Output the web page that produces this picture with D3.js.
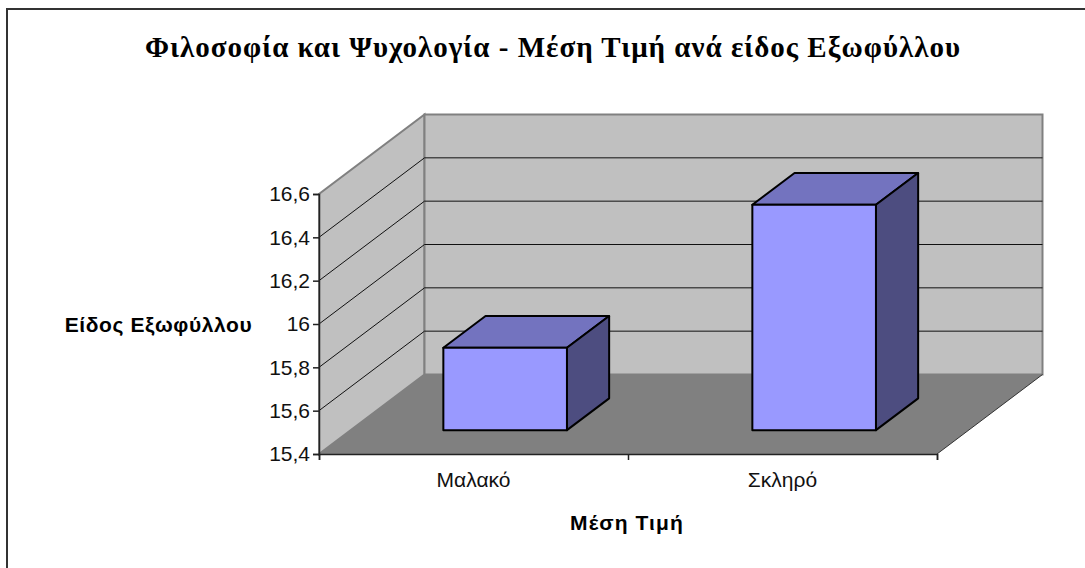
<!DOCTYPE html>
<html>
<head>
<meta charset="utf-8">
<script src="https://cdn.jsdelivr.net/npm/d3@7"></script>
<style>
  html, body { margin: 0; padding: 0; background: #fff; }
  svg { display: block; }
  text { font-family: "Liberation Sans", Arial, sans-serif; fill: #000; }
  .axis text { font-size: 21px; fill: #111; }
  .axis path, .axis line { stroke: #222; stroke-width: 1.5; }
</style>
</head>
<body>
<div id="chart"></div>
<script>
const WIDTH  = 1085;
const HEIGHT = 568;

const title      = 'Φιλοσοφία και Ψυχολογία - Μέση Τιμή ανά είδος Εξωφύλλου';
const xTitle     = 'Μέση Τιμή';
const yTitle     = 'Είδος Εξωφύλλου';
const categories = ['Μαλακό', 'Σκληρό'];
const values     = [15.78, 16.44];
const yTicks     = [15.4, 15.6, 15.8, 16, 16.2, 16.4, 16.6];

// front plane of the plot box and how far the depth goes back
const LEFT = 319, RIGHT = 937, BOTTOM = 454, TOP = 194;
const DEPTH_X = 105.5, DEPTH_Y = -79.5;
const BAR_FRONT = 0.3, BAR_BACK = 0.7;

const svg = d3.select('#chart').append('svg')
  .attr('width', WIDTH)
  .attr('height', HEIGHT);

const y  = d3.scaleLinear().domain([15.4, 16.6]).range([BOTTOM, TOP]);
const x  = d3.scaleBand().domain(categories).range([LEFT, RIGHT]).paddingInner(0.6).paddingOuter(0.3);
const xE = d3.scaleLinear().domain([0, categories.length]).range([LEFT, RIGHT]);
const dx = d3.scaleLinear().domain([0, 1]).range([0, DEPTH_X]);
const dy = d3.scaleLinear().domain([0, 1]).range([0, DEPTH_Y]);

const poly = pts => pts.map(p => p.join(',')).join(' ');
const yMin = y.domain()[0], yMax = y.domain()[1];

// chart frame, only top and left are visible
svg.append('path')
  .attr('d', 'M7,568V9H1085')
  .attr('fill', 'none')
  .attr('stroke', '#333')
  .attr('stroke-width', 2);

// side wall, back wall, floor
svg.append('polygon')
  .attr('points', poly([[LEFT, y(yMin)], [LEFT, y(yMax)], [LEFT + dx(1), y(yMax) + dy(1)], [LEFT + dx(1), y(yMin) + dy(1)]]))
  .attr('fill', '#c0c0c0').attr('stroke', '#808080').attr('stroke-width', 2);
svg.append('polygon')
  .attr('points', poly([[LEFT + dx(1), y(yMin) + dy(1)], [LEFT + dx(1), y(yMax) + dy(1)], [RIGHT + dx(1), y(yMax) + dy(1)], [RIGHT + dx(1), y(yMin) + dy(1)]]))
  .attr('fill', '#c0c0c0').attr('stroke', '#808080').attr('stroke-width', 2);
svg.append('polygon')
  .attr('points', poly([[LEFT, y(yMin)], [LEFT + dx(1), y(yMin) + dy(1)], [RIGHT + dx(1), y(yMin) + dy(1)], [RIGHT, y(yMin)]]))
  .attr('fill', '#808080');

// grid lines run up the side wall and along the back wall
svg.append('g').selectAll('polyline')
  .data(yTicks.slice(1, -1))
  .join('polyline')
    .attr('points', d => poly([[LEFT, y(d)], [LEFT + dx(1), y(d) + dy(1)], [RIGHT + dx(1), y(d) + dy(1)]]))
    .attr('fill', 'none')
    .attr('stroke', '#111')
    .attr('stroke-width', 1);

// floor edge on the right
svg.append('line')
  .attr('x1', RIGHT).attr('y1', y(yMin))
  .attr('x2', RIGHT + dx(1)).attr('y2', y(yMin) + dy(1))
  .attr('stroke', '#333');

// bars
const bars = svg.append('g').selectAll('g')
  .data(categories.map((c, i) => ({ c, v: values[i] })))
  .join('g')
    .attr('stroke', '#000')
    .attr('stroke-width', 2)
    .attr('stroke-linejoin', 'round');

const fx = (d, t) => x(d.c) + dx(t);
const bx = (d, t) => x(d.c) + x.bandwidth() + dx(t);

bars.append('polygon')   // top
  .attr('fill', '#7373bf')
  .attr('points', d => poly([
    [fx(d, BAR_FRONT), y(d.v) + dy(BAR_FRONT)], [bx(d, BAR_FRONT), y(d.v) + dy(BAR_FRONT)],
    [bx(d, BAR_BACK), y(d.v) + dy(BAR_BACK)], [fx(d, BAR_BACK), y(d.v) + dy(BAR_BACK)]]));
bars.append('polygon')   // side
  .attr('fill', '#4d4d80')
  .attr('points', d => poly([
    [bx(d, BAR_FRONT), y(d.v) + dy(BAR_FRONT)], [bx(d, BAR_BACK), y(d.v) + dy(BAR_BACK)],
    [bx(d, BAR_BACK), y(yMin) + dy(BAR_BACK)], [bx(d, BAR_FRONT), y(yMin) + dy(BAR_FRONT)]]));
bars.append('polygon')   // front
  .attr('fill', '#9999ff')
  .attr('points', d => poly([
    [fx(d, BAR_FRONT), y(d.v) + dy(BAR_FRONT)], [bx(d, BAR_FRONT), y(d.v) + dy(BAR_FRONT)],
    [bx(d, BAR_FRONT), y(yMin) + dy(BAR_FRONT)], [fx(d, BAR_FRONT), y(yMin) + dy(BAR_FRONT)]]));

// axes
svg.append('g')
  .attr('class', 'y axis')
  .attr('transform', 'translate(' + LEFT + ',0)')
  .call(d3.axisLeft(y).tickValues(yTicks).tickSize(6).tickPadding(3).tickFormat(d => String(d).replace('.', ',')));
svg.append('g')
  .attr('class', 'x axis')
  .attr('transform', 'translate(0,' + BOTTOM + ')')
  .call(d3.axisBottom(xE).tickValues(d3.range(categories.length + 1)).tickSize(6).tickFormat(''));
svg.append('g')
  .attr('class', 'x axis labels')
  .attr('transform', 'translate(0,' + BOTTOM + ')')
  .call(d3.axisBottom(x).tickSize(0).tickPadding(18))
  .call(g => g.select('.domain').remove());

// titles
svg.append('text')
  .attr('x', 553).attr('y', 57)
  .style('text-anchor', 'middle')
  .style('font-family', '"Liberation Serif", serif')
  .style('font-size', '29px')
  .style('font-weight', 'bold')
  .style('letter-spacing', '1px')
  .text(title);
svg.append('text')
  .attr('x', 158.5).attr('y', 332)
  .style('text-anchor', 'middle')
  .style('font-size', '21px')
  .style('font-weight', 'bold')
  .style('letter-spacing', '0.6px')
  .text(yTitle);
svg.append('text')
  .attr('x', 627).attr('y', 530)
  .style('text-anchor', 'middle')
  .style('font-size', '21px')
  .style('font-weight', 'bold')
  .style('letter-spacing', '1.1px')
  .text(xTitle);
</script>
</body>
</html>
